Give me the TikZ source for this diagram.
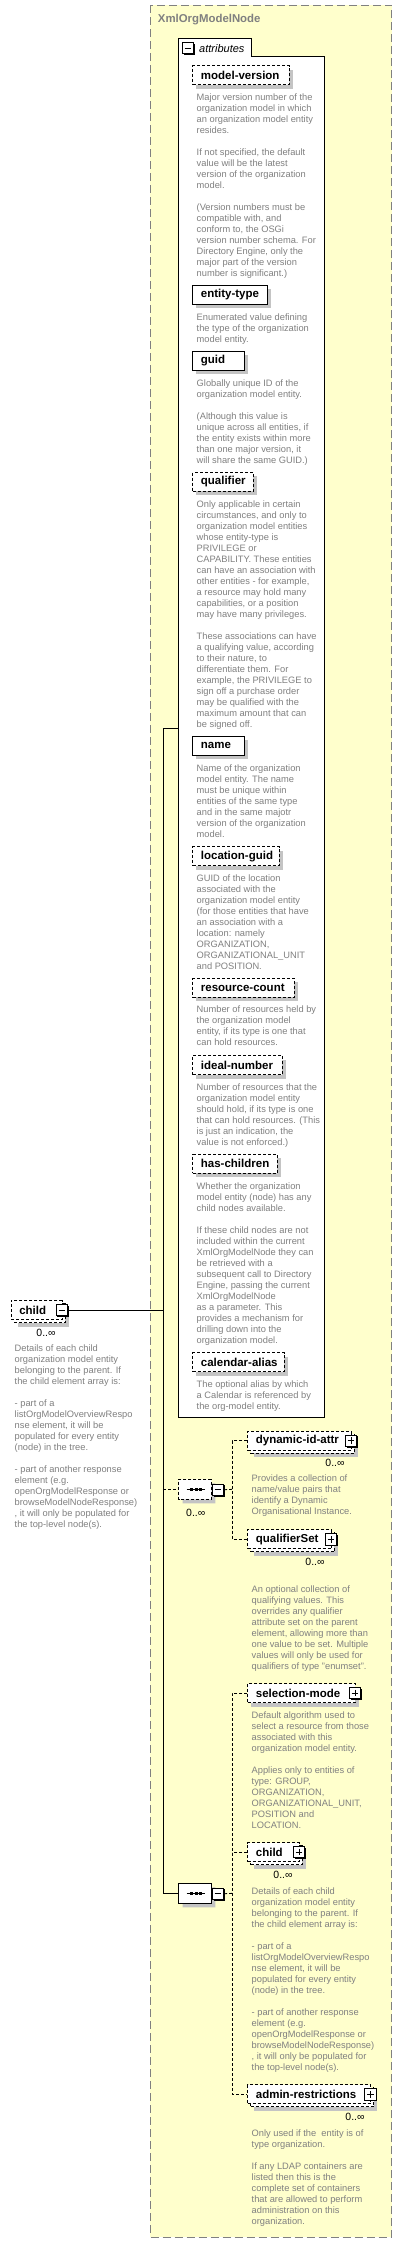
\documentclass[tikz,border=0pt]{standalone}
\usepackage{fontspec}
\setmainfont{Liberation Sans}
\usetikzlibrary{shapes.misc}
\definecolor{boxyellow}{RGB}{255,255,204}
\definecolor{txtgray}{RGB}{128,128,128}
\definecolor{shadowgray}{RGB}{196,196,196}
\definecolor{bordergray}{RGB}{128,128,128}
\newcommand{\elem}[6]{%
 \fill[shadowgray] (#2+4,#3-5.5) rectangle (#2+4+#4,#3+13.5);
 \node[elbox,#6,minimum width=#4pt] (#1) at (#2,#3) {};
 \node[lbl] (#1-l) at ([xshift=8.4pt]#1.west) {#5};}
\newcommand{\elemm}[6]{%
 \fill[shadowgray] (#2+7,#3-2.5) rectangle (#2+7+#4,#3+16.5);
 \node[elbox,#6,minimum width=#4pt] (#1-b) at (#2+3,#3+3) {};
 \node[elbox,#6,minimum width=#4pt] (#1) at (#2,#3) {};
 \node[lbl] (#1-l) at ([xshift=8.4pt]#1.west) {#5};}
\newcommand{\icn}[4]{%
 \fill[black] (#2-4.5,#3-4.5) rectangle (#2+6.9,#3+6.9);
 \node[iconbox] (#1) at (#2,#3) {};
 \draw[line width=1pt] (#2-3.3,#3) -- (#2+3.3,#3);
 \ifnum#4=1 \draw[line width=1pt] (#2,#3-3.3) -- (#2,#3+3.3);\fi}
\newcommand{\dsc}[4]{\node[desctext] (#1) at (#2,#3-4.7) {\rule{0pt}{8pt}#4};}
\newcommand{\seqn}[4]{%
 \node[seqbox,fill=shadowgray,draw=none] (#1-s) at (#2+4,#3+4) {};
 \node[seqbox,#4] (#1) at (#2,#3) {};
 \draw[line width=0.9pt] (#2+8.4,#3) -- (#2+26.7,#3);
 \fill (#2+11.7,#3-1.3) rectangle ++(2.7,2.7);
 \fill (#2+16.7,#3-1.3) rectangle ++(2.7,2.7);
 \fill (#2+20.7,#3-1.3) rectangle ++(2.7,2.7);}
\begin{document}
\begin{tikzpicture}[x=1pt,y=-1pt,
 desctext/.style={anchor=north west, inner sep=0pt, outer sep=0pt, align=left, text=txtgray, font=\fontsize{9.3}{11}\selectfont},
 lbl/.style={anchor=west, inner sep=0pt, font=\fontsize{11.5}{13}\selectfont\bfseries},
 occ/.style={anchor=center, inner sep=0pt, font=\fontsize{10.5}{12}\selectfont},
 dsh/.style={dash pattern=on 3pt off 2pt},
 elbox/.style={draw=black, fill=white, line width=0.8pt, anchor=west, inner sep=0pt, minimum height=19pt},
 iconbox/.style={draw=black, fill=white, line width=0.8pt, inner sep=0pt, minimum size=11.4pt},
 seqbox/.style={chamfered rectangle, chamfered rectangle xsep=5pt, chamfered rectangle ysep=5pt, draw=black, fill=white, line width=0.8pt, anchor=west, inner sep=0pt, minimum width=32.7pt, minimum height=20pt},
 conn/.style={draw=black, line width=0.8pt}]
\useasboundingbox (0,0) rectangle (402,2243);
\fill[white] (0,0) rectangle (402,2243);
% outer complex type box
\draw[bordergray, fill=boxyellow, line width=0.9pt, dash pattern=on 8pt off 4pt] (150.3,5.3) rectangle (391.7,2237);
\node[anchor=west, inner sep=0pt, text=txtgray, font=\fontsize{11.4}{13}\selectfont\bfseries] (title) at (157.7,19.3) {XmlOrgModelNode};
% attributes box
\draw[black, fill=white, line width=0.8pt] (178.3,56.3) -- (178.3,38.3) -- (251.3,38.3) -- (251.3,56.3) -- (324.3,56.3) -- (324.3,1417.3) -- (178.3,1417.3) -- cycle;
\icn{attricon}{188}{48}{0}
\node[anchor=west, inner sep=0pt, font=\fontsize{11}{13}\selectfont\itshape] (attrlbl) at (199,48.3) {attributes};
\coordinate (attrL) at (178.3,728.3);
% attributes
\elem{mv}{192.3}{75}{96.4}{model-version}{dsh}
\dsc{mvd}{196.7}{96.7}{Major version number of the\\organization model in which\\an organization model entity\\resides.\\[11pt]If not specified, the default\\value will be the latest\\version of the organization\\model.\\[11pt](Version numbers must be\\compatible with, and\\conform to, the OSGi\\version number schema. For\\Directory Engine, only the\\major part of the version\\number is significant.)}
\elem{et}{192.3}{294.8}{74.4}{entity-type}{}
\dsc{etd}{196.7}{316.7}{Enumerated value defining\\the type of the organization\\model entity.}
\elem{guid}{192.3}{360.8}{51.4}{guid}{}
\dsc{guidd}{196.7}{382.7}{Globally unique ID of the\\organization model entity.\\[11pt](Although this value is\\unique across all entities, if\\the entity exists within more\\than one major version, it\\will share the same GUID.)}
\elem{qual}{192.3}{481.8}{60.4}{qualifier}{dsh}
\dsc{quald}{196.7}{503.7}{Only applicable in certain\\circumstances, and only to\\organization model entities\\whose entity-type is\\PRIVILEGE or\\CAPABILITY. These entities\\can have an association with\\other entities - for example,\\a resource may hold many\\capabilities, or a position\\may have many privileges.\\[11pt]These associations can have\\a qualifying value, according\\to their nature, to\\differentiate them. For\\example, the PRIVILEGE to\\sign off a purchase order\\may be qualified with the\\maximum amount that can\\be signed off.}
\elem{name}{192.3}{745.8}{51.4}{name}{}
\dsc{named}{196.7}{767.7}{Name of the organization\\model entity. The name\\must be unique within\\entities of the same type\\and in the same majotr\\version of the organization\\model.}
\elem{lg}{192.3}{856.2}{86.4}{location-guid}{dsh}
\dsc{lgd}{196.7}{877.7}{GUID of the location\\associated with the\\organization model entity\\(for those entities that have\\an association with a\\location: namely\\ORGANIZATION,\\ORGANIZATIONAL\_UNIT\\and POSITION.}
\elem{rc}{192.3}{987.8}{101.4}{resource-count}{dsh}
\dsc{rcd}{196.7}{1009.3}{Number of resources held by\\the organization model\\entity, if its type is one that\\can hold resources.}
\elem{inum}{192.3}{1065.2}{89.7}{ideal-number}{dsh}
\dsc{inumd}{196.7}{1086.7}{Number of resources that the\\organization model entity\\should hold, if its type is one\\that can hold resources. (This\\is just an indication, the\\value is not enforced.)}
\elem{hc}{192.3}{1163.8}{84.4}{has-children}{dsh}
\dsc{hcd}{196.7}{1185.7}{Whether the organization\\model entity (node) has any\\child nodes available.\\[11pt]If these child nodes are not\\included within the current\\XmlOrgModelNode they can\\be retrieved with a\\subsequent call to Directory\\Engine, passing the current\\XmlOrgModelNode\\as a parameter. This\\provides a mechanism for\\drilling down into the\\organization model.}
\elem{ca}{192.3}{1362}{91.4}{calendar-alias}{dsh}
\dsc{cad}{196.7}{1383.7}{The optional alias by which\\a Calendar is referenced by\\the org-model entity.}
% left child element
\elemm{childL}{10.7}{1310}{51.1}{child}{dsh}
\icn{childLi}{61.8}{1310}{0}
\node[occ] (childLo) at (46,1333.3) {0..∞};
\dsc{childLd}{14.7}{1348.3}{Details of each child\\organization model entity\\belonging to the parent. If\\the child element array is:\\[11pt]- part of a\\listOrgModelOverviewRespo\\nse element, it will be\\populated for every entity\\(node) in the tree.\\[11pt]- part of another response\\element (e.g.\\openOrgModelResponse or\\browseModelNodeResponse)\\, it will only be populated for\\the top-level node(s).}
% sequences
\seqn{seqA}{178.3}{1489.3}{dsh}
\icn{seqAi}{218}{1489.7}{0}
\node[occ] (seqAo) at (195.8,1513.3) {0..∞};
\seqn{seqB}{178.3}{1893.3}{}
\icn{seqBi}{218}{1893.7}{0}
% main connectors
\coordinate (jchild) at (163.3,1310);
\coordinate (vtop) at (163.3,728.3);
\coordinate (vbot) at (163.3,1893.3);
\coordinate (jseqA) at (163.3,1489.3);
\draw[conn] (childLi.east) -- (jchild);
\draw[conn] (attrL) -- (vtop) -- (vbot) -- (seqB.west);
\draw[conn,dsh] (jseqA) -- (seqA.west);
% right column, first sequence
\elemm{dyn}{247.3}{1440.7}{103.7}{dynamic-id-attr}{dsh}
\icn{dyni}{351}{1440.7}{1}
\node[occ] (dyno) at (335,1463.3) {0..∞};
\dsc{dynd}{251.7}{1478.3}{Provides a collection of\\name/value pairs that\\identify a Dynamic\\Organisational Instance.}
\elemm{qs}{247.3}{1539.3}{83.7}{qualifierSet}{dsh}
\icn{qsi}{331}{1539.3}{1}
\node[occ] (qso) at (315,1562) {0..∞};
\dsc{qsd}{251.7}{1588.7}{An optional collection of\\qualifying values. This\\overrides any qualifier\\attribute set on the parent\\element, allowing more than\\one value to be set. Multiple\\values will only be used for\\qualifiers of type "enumset".}
\coordinate (busA) at (232.3,1489.3);
\draw[conn,dsh] (seqAi.east) -- (busA);
\draw[conn,dsh] (dyn.west) -| (busA) |- (qs.west);
% right column, second sequence
\elem{sm}{247.3}{1693}{107.7}{selection-mode}{dsh}
\icn{smi}{355}{1693}{1}
\dsc{smd}{251.7}{1714.7}{Default algorithm used to\\select a resource from those\\associated with this\\organization model entity.\\[11pt]Applies only to entities of\\type: GROUP,\\ORGANIZATION,\\ORGANIZATIONAL\_UNIT,\\POSITION and\\LOCATION.}
\elemm{childR}{247.3}{1852}{51.7}{child}{dsh}
\icn{childRi}{299}{1852}{1}
\node[occ] (childRo) at (283,1875) {0..∞};
\dsc{childRd}{251.7}{1890.7}{Details of each child\\organization model entity\\belonging to the parent. If\\the child element array is:\\[11pt]- part of a\\listOrgModelOverviewRespo\\nse element, it will be\\populated for every entity\\(node) in the tree.\\[11pt]- part of another response\\element (e.g.\\openOrgModelResponse or\\browseModelNodeResponse)\\, it will only be populated for\\the top-level node(s).}
\elemm{adm}{247.3}{2094.3}{123}{admin-restrictions}{dsh}
\icn{admi}{370.3}{2094.3}{1}
\node[occ] (admo) at (355,2117) {0..∞};
\dsc{admd}{251.7}{2132.7}{Only used if the\ \ entity is of\\type organization.\\[11pt]If any LDAP containers are\\listed then this is the\\complete set of containers\\that are allowed to perform\\administration on this\\organization.}
\coordinate (busB) at (232.3,1893.3);
\draw[conn,dsh] (seqBi.east) -- (busB);
\draw[conn,dsh] (sm.west) -| (busB) |- (adm.west);
\draw[conn,dsh] (childR.west) -- (childR.west -| busB);
\end{tikzpicture}
\end{document}
